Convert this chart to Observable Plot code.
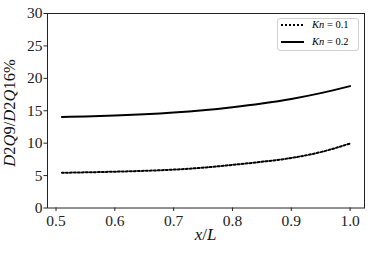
<!DOCTYPE html>
<html>
<head>
<meta charset="utf-8">
<script src="https://cdn.jsdelivr.net/npm/d3@7"></script>
<script src="https://cdn.jsdelivr.net/npm/@observablehq/plot@0.6"></script>
<style>
  html, body { margin: 0; padding: 0; background: #fff; }
  #wrap { position: relative; width: 374px; height: 254px; }
  .legend { position: absolute; left: 277px; top: 18px; width: 82px; height: 33px;
    border: 1px solid #d0d0d0; border-radius: 3px; background: rgba(255,255,255,0.85);
    font-family: "Liberation Serif", "Times New Roman", serif; font-size: 10.5px; box-sizing: border-box; }
  .legend .row { position: absolute; left: 0; height: 14px; width: 100%; }
  .legend svg { position: absolute; left: 2px; top: 0; }
  .legend span { position: absolute; left: 34px; top: 0px; line-height: 14px; white-space: nowrap; }
  .legend i { font-style: italic; }
</style>
</head>
<body>
<div id="wrap"></div>
<script>
const xs = [0.51, 0.55, 0.6, 0.65, 0.7, 0.75, 0.8, 0.85, 0.9, 0.95, 1.0];
const kn01 = [5.43, 5.5, 5.6, 5.73, 5.92, 6.22, 6.65, 7.13, 7.72, 8.62, 9.95];
const kn02 = [14.05, 14.12, 14.25, 14.45, 14.72, 15.08, 15.55, 16.12, 16.82, 17.72, 18.8];
const seriesNames = ["Kn = 0.1", "Kn = 0.2"];
const xTicks = [0.5, 0.6, 0.7, 0.8, 0.9, 1.0];
const yTicks = [0, 5, 10, 15, 20, 25, 30];

const d01 = xs.map((x, i) => ({x, y: kn01[i]}));
const d02 = xs.map((x, i) => ({x, y: kn02[i]}));

const font = '"Liberation Serif", "Times New Roman", serif';
const chart = Plot.plot({
  width: 374,
  height: 254,
  marginLeft: 47,
  marginRight: 10,
  marginTop: 13,
  marginBottom: 46.5,
  style: {fontFamily: font, fontSize: "15.5px", color: "#222", background: "#fff"},
  x: {domain: [0.4855, 1.0245], ticks: xTicks, tickFormat: d3.format(".1f"), label: null},
  y: {domain: [0, 30], ticks: yTicks, tickFormat: d3.format("d"), label: null},
  marks: [
    Plot.line(d01, {x: "x", y: "y", stroke: "#000", strokeWidth: 2, strokeDasharray: "2,2", curve: "monotone-x"}),
    Plot.line(d02, {x: "x", y: "y", stroke: "#000", strokeWidth: 2, curve: "monotone-x"}),
    Plot.frame({stroke: "#222", strokeWidth: 1}),
    Plot.axisX({ticks: xTicks, tickFormat: d3.format(".1f"), tickSize: 3.5, tickPadding: 3, stroke: "#222", fontSize: 15.5, label: null}),
    Plot.axisY({ticks: yTicks, tickFormat: d3.format("d"), tickSize: 3.5, tickPadding: 1.5, stroke: "#222", fontSize: 15.5, label: null})
  ]
});
document.getElementById("wrap").appendChild(chart);

const svg = d3.select(chart);
// x label
const xl = svg.append("text").attr("x", 205.5).attr("y", 240).attr("text-anchor", "middle")
  .style("font-family", font).attr("font-size", 17).attr("fill", "#111");
xl.append("tspan").attr("font-style", "italic").text("x");
xl.append("tspan").text("/");
xl.append("tspan").attr("font-style", "italic").text("L");
// y label
const yl = svg.append("text").attr("transform", "translate(15,113) rotate(-90)").attr("text-anchor", "middle")
  .style("font-family", font).attr("font-size", 16.5).attr("fill", "#111");
[["D", true], ["2", false], ["Q", true], ["9", false], ["/", false], ["D", true], ["2", false], ["Q", true], ["16%", false]]
  .forEach(([t, it]) => yl.append("tspan").attr("font-style", it ? "italic" : "normal").text(t));

// legend
const leg = document.createElement("div");
leg.className = "legend";
seriesNames.forEach((name, i) => {
  const row = document.createElement("div");
  row.className = "row";
  row.style.top = (i * 17 - 1) + "px";
  const [a, b] = name.split(" = ");
  row.innerHTML = `<svg width="28" height="14"><line x1="1" x2="24" y1="7" y2="7" stroke="#000" stroke-width="2" ${i === 0 ? 'stroke-dasharray="2,2"' : ''}/></svg><span><i>${a}</i> = ${b}</span>`;
  leg.appendChild(row);
});
document.getElementById("wrap").appendChild(leg);
</script>
</body>
</html>
